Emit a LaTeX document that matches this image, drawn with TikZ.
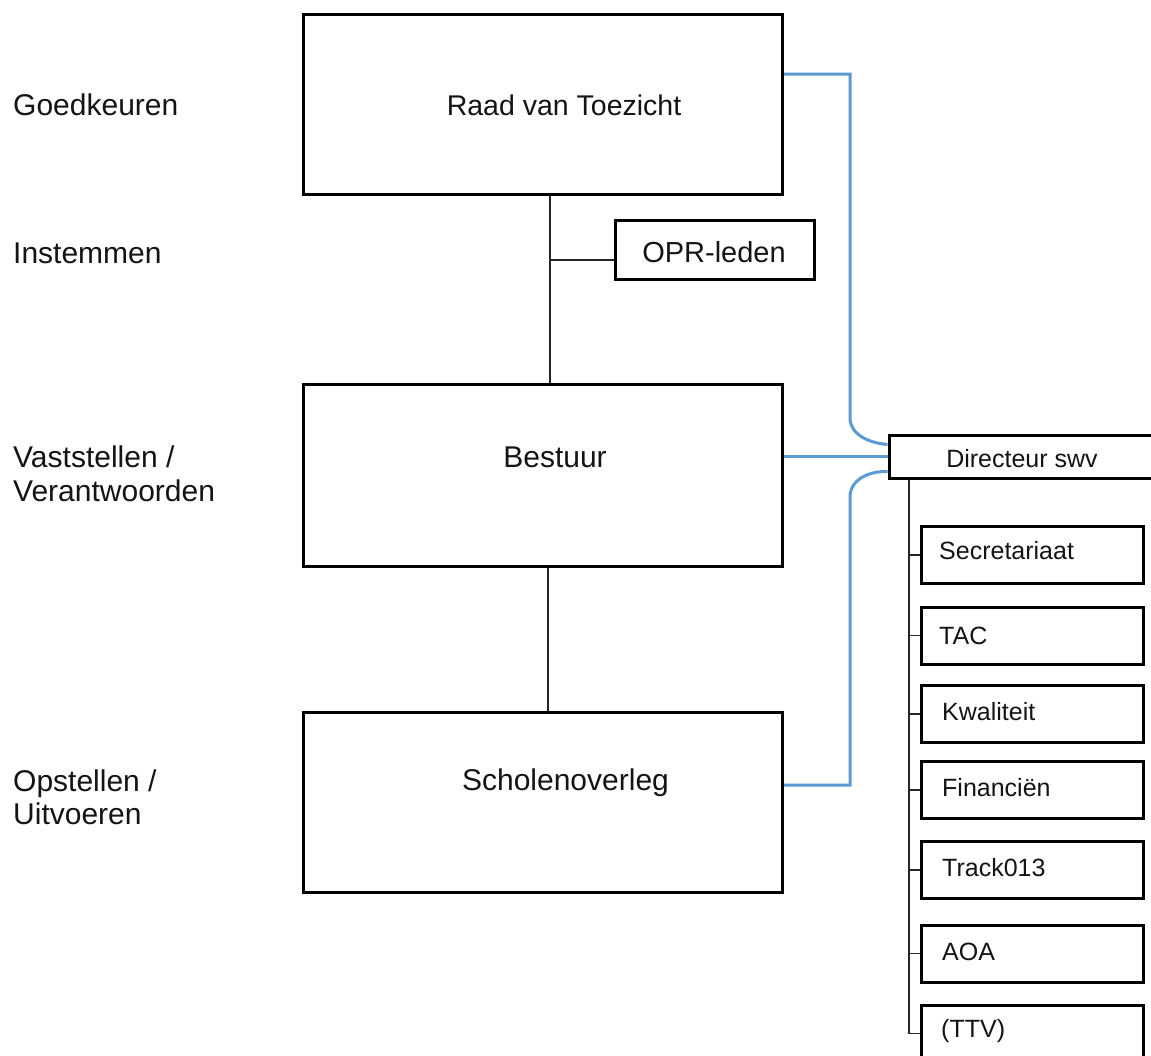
\documentclass[tikz,border=0pt]{standalone}
\usepackage{fontspec}
\setmainfont{Liberation Sans}
\definecolor{lnblue}{RGB}{91,155,213}
\definecolor{txtc}{RGB}{20,20,20}
\begin{document}
\begin{tikzpicture}[x=1pt,y=-1pt,
  box/.style={draw=black,line width=3pt,rectangle,inner sep=0pt,fill=white},
  bigbox/.style={box,minimum width=479pt,minimum height=180pt},
  subbox/.style={box,minimum width=222pt,minimum height=57pt},
  conn/.style={draw=black!85,line width=1.7pt},
  bl/.style={draw=lnblue,line width=3pt},
  lab/.style={inner sep=0pt,anchor=base west,text=txtc,font=\fontsize{30}{34}\selectfont},
  ctxt/.style={inner sep=0pt,anchor=base,text=txtc,font=\fontsize{30}{34}\selectfont},
  stxt/.style={inner sep=0pt,anchor=base west,text=txtc,font=\fontsize{25}{30}\selectfont}]
\useasboundingbox (0,0) rectangle (1151,1055);
\fill[white] (0,0) rectangle (1151,1055);

% left labels
\node[lab] (l1) at (13,115) {Goedkeuren};
\node[lab] (l2) at (13,263) {Instemmen};
\node[lab] (l3) at (13,467) {Vaststellen /};
\node[lab] (l3b) at (13,501) {Verantwoorden};
\node[lab] (l4) at (13,791) {Opstellen /};
\node[lab] (l4b) at (13,824) {Uitvoeren};

% coordinates for connectors
\coordinate (j1) at (550,260);
\coordinate (j2) at (548,640);
\coordinate (bx) at (850,74);
\coordinate (by) at (850,785);
\coordinate (vx) at (909,0);

\node[box,minimum width=290pt,minimum height=43pt] (dir) at (1034,456.5) {};
\node[bigbox] (raad) at (542.5,104) {};
\node[bigbox,minimum height=182pt] (bestuur) at (542.5,475) {};
\node[bigbox] (scholen) at (542.5,802) {};

% blue connectors
\draw[bl] ([yshift=30pt]raad.east) -- (bx) -- (850,418)
  .. controls (850,434) and (868,443) .. ([yshift=12pt]dir.west);
\draw[bl] (bestuur.east |- dir.west) -- (dir.west);
\draw[bl] ([yshift=-15pt]dir.west) .. controls (868,471) and (850,480) .. (850,497)
  -- (by) -- (scholen.east |- by);

% redraw boxes on top
\node[box,minimum width=290pt,minimum height=43pt] at (dir) {};
\node[bigbox] at (raad) {};
\node[bigbox,minimum height=182pt] at (bestuur) {};
\node[bigbox] at (scholen) {};

\node[box,minimum width=199pt,minimum height=59pt] (opr) at (714.5,249.5) {};

% black connectors
\draw[conn] (raad.south -| j1) -- (bestuur.north -| j1);
\draw[conn] (j1) -- (opr.west |- j1);
\draw[conn] (bestuur.south -| j2) -- (scholen.north -| j2);

% sub boxes
\node[subbox] (s1) at (1032,555) {};
\node[subbox] (s2) at (1032,635.5) {};
\node[subbox] (s3) at (1032,714) {};
\node[subbox] (s4) at (1032,790) {};
\node[subbox] (s5) at (1032,870) {};
\node[subbox] (s6) at (1032,953.5) {};
\node[subbox] (s7) at (1032,1033.5) {};

\draw[conn] (dir.south -| vx) -- (s7.west -| vx);
\foreach \s in {s1,s2,s3,s4,s5,s6,s7}{
  \draw[conn] (\s.west -| vx) -- (\s.west);
}

% box texts
\node[ctxt,font=\fontsize{28.5}{34}\selectfont] (t1) at (564,115) {Raad van Toezicht};
\node[ctxt] (t2) at (555,467) {Bestuur};
\node[ctxt] (t3) at (565.5,790) {Scholenoverleg};
\node[ctxt,font=\fontsize{29}{34}\selectfont] (t4) at (714,262) {OPR-leden};
\node[inner sep=0pt,anchor=base,text=txtc,font=\fontsize{25}{30}\selectfont] (t5) at (1022,467) {Directeur swv};

\node[stxt] at (939,559) {Secretariaat};
\node[stxt] at (939,644) {TAC};
\node[stxt] at (942,720) {Kwaliteit};
\node[stxt] at (942,796) {Financiën};
\node[stxt] at (942,876) {Track013};
\node[stxt] at (942,960) {AOA};
\node[stxt] at (941,1037) {(TTV)};
\end{tikzpicture}
\end{document}
